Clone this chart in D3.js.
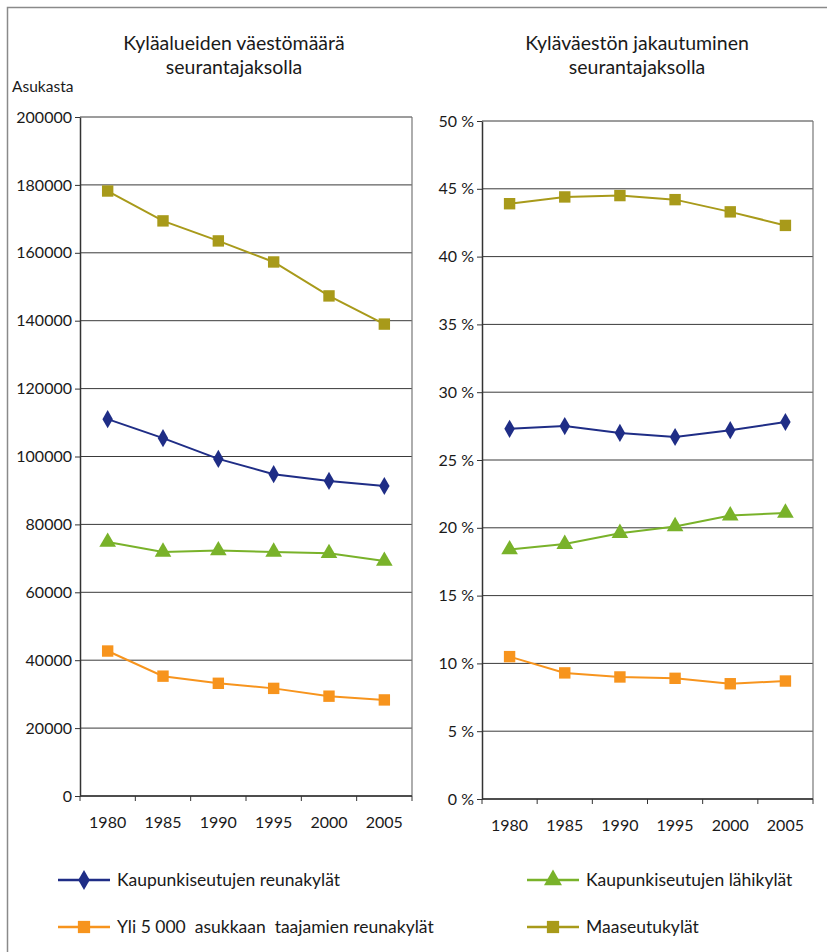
<!DOCTYPE html>
<html>
<head>
<meta charset="utf-8">
<script src="https://cdn.jsdelivr.net/npm/d3@7"></script>
<style>
  body { margin: 0; background: #fff; }
  text { font-family: Lato, "Open Sans", sans-serif; fill: #1a1a1a; }
</style>
</head>
<body>
<div id="chart"></div>
<script>
// Data
const years = ["1980", "1985", "1990", "1995", "2000", "2005"]
const seriesNames = [
  "Kaupunkiseutujen reunakylät",
  "Kaupunkiseutujen lähikylät",
  "Yli 5 000  asukkaan  taajamien reunakylät",
  "Maaseutukylät"
]
// population (left chart)
const reunaPop = [111000, 105400, 99300, 94800, 92800, 91300]
const lahiPop = [74800, 71900, 72300, 71900, 71500, 69200]
const taajamaPop = [42700, 35300, 33200, 31700, 29400, 28300]
const maaseutuPop = [178200, 169400, 163500, 157300, 147300, 139000]
// share in % (right chart)
const reunaPct = [27.3, 27.5, 27.0, 26.7, 27.2, 27.8]
const lahiPct = [18.4, 18.8, 19.6, 20.1, 20.9, 21.1]
const taajamaPct = [10.5, 9.3, 9.0, 8.9, 8.5, 8.7]
const maaseutuPct = [43.9, 44.4, 44.5, 44.2, 43.3, 42.3]

const leftTicks = [0, 20000, 40000, 60000, 80000, 100000, 120000, 140000, 160000, 180000, 200000]
const rightTicks = [0, 5, 10, 15, 20, 25, 30, 35, 40, 45, 50]

const colors = ["#1f2d86", "#79b22a", "#f7941d", "#a89a1a"]
const symbols = [d3.symbolDiamond, d3.symbolTriangle, d3.symbolSquare, d3.symbolSquare]
const symSizes = [95, 120, 130, 130]

var width = 827, height = 952

var svg = d3.select("#chart").append("svg")
  .attr("width", width)
  .attr("height", height)

// outer frame (left + top edges visible)
svg.append("path")
  .attr("d", "M7.5," + height + "V7.5H" + width)
  .attr("fill", "none")
  .attr("stroke", "#8a8a8a")
  .attr("stroke-width", 1.5)

function drawPanel(cfg) {
  var x = d3.scaleBand().domain(years).range([cfg.x0, cfg.x1])
  var y = d3.scaleLinear().domain([0, cfg.max]).range([cfg.y1, cfg.y0])

  var g = svg.append("g")

  // gridlines
  g.selectAll(".grid")
    .data(cfg.ticks)
    .enter().append("line")
      .attr("x1", cfg.x0).attr("x2", cfg.x1)
      .attr("y1", d => y(d)).attr("y2", d => y(d))
      .attr("stroke", "#3a3a3a")
      .attr("stroke-width", 1)

  // plot frame side
  g.append("line").attr("x1", cfg.x1).attr("x2", cfg.x1).attr("y1", cfg.y0).attr("y2", cfg.y1)
    .attr("stroke", "#777").attr("stroke-width", 1.2)

  // y axis
  var yAxis = d3.axisLeft(y).tickValues(cfg.ticks).tickSize(5).tickSizeOuter(0).tickFormat(cfg.fmt)
  var ya = g.append("g").attr("transform", "translate(" + cfg.x0 + ",0)").call(yAxis)
  ya.select(".domain").attr("stroke", "#333").attr("stroke-width", 1.5)
  ya.selectAll(".tick line").attr("stroke", "#333")
  ya.selectAll("text").attr("font-size", 16).attr("font-family", "Lato, sans-serif").attr("fill", "#1a1a1a").attr("x", -8)

  // x axis: ticks between categories
  var xa = g.append("g").attr("transform", "translate(0," + cfg.y1 + ")")
  xa.append("line").attr("x1", cfg.x0).attr("x2", cfg.x1).attr("stroke", "#333").attr("stroke-width", 1.5)
  xa.selectAll(".xt")
    .data(years.concat(["end"]))
    .enter().append("line")
      .attr("x1", (d, i) => cfg.x0 + i * x.step())
      .attr("x2", (d, i) => cfg.x0 + i * x.step())
      .attr("y1", 0).attr("y2", 5)
      .attr("stroke", "#333")
  xa.selectAll(".xl")
    .data(years)
    .enter().append("text")
      .attr("x", d => x(d) + x.bandwidth() / 2)
      .attr("y", 32)
      .attr("text-anchor", "middle")
      .attr("font-size", 16)
      .text(d => d)

  // title
  var t = g.append("text").attr("text-anchor", "middle").attr("font-size", 19.5)
  cfg.title.forEach((line, i) => {
    t.append("tspan").attr("x", cfg.titleX).attr("y", 50 + i * 24).text(line)
  })

  // series
  var line = d3.line().x((d, i) => x(years[i]) + x.bandwidth() / 2).y(d => y(d))
  cfg.series.forEach((vals, s) => {
    g.append("path")
      .attr("d", line(vals))
      .attr("fill", "none")
      .attr("stroke", colors[s])
      .attr("stroke-width", 2)
    g.selectAll(".pt" + s)
      .data(vals)
      .enter().append("path")
        .attr("d", d3.symbol().type(symbols[s]).size(symSizes[s]))
        .attr("transform", (d, i) => "translate(" + (x(years[i]) + x.bandwidth() / 2) + "," + y(d) + ")")
        .attr("fill", colors[s])
  })
}

drawPanel({
  x0: 80, x1: 412, y0: 117, y1: 796, max: 200000,
  ticks: leftTicks, fmt: d => d,
  title: ["Kyläalueiden väestömäärä", "seurantajaksolla"], titleX: 234,
  series: [reunaPop, lahiPop, taajamaPop, maaseutuPop]
})

drawPanel({
  x0: 482, x1: 813, y0: 121, y1: 799, max: 50,
  ticks: rightTicks, fmt: d => d + " %",
  title: ["Kyläväestön jakautuminen", "seurantajaksolla"], titleX: 637,
  series: [reunaPct, lahiPct, taajamaPct, maaseutuPct]
})

svg.append("text").attr("x", 12).attr("y", 92).attr("font-size", 15.5).text("Asukasta")

// Legend
const legendPos = [[58, 880], [527, 880], [58, 927], [527, 927]]
var lg = svg.selectAll(".legend")
  .data(seriesNames)
  .enter().append("g")
    .attr("transform", (d, i) => "translate(" + legendPos[i][0] + "," + legendPos[i][1] + ")")
lg.append("line").attr("x1", 0).attr("x2", 52).attr("stroke", (d, i) => colors[i]).attr("stroke-width", 2.5)
lg.append("path")
  .attr("d", (d, i) => d3.symbol().type(symbols[i]).size(symSizes[i] + 20)())
  .attr("transform", "translate(26,0)")
  .attr("fill", (d, i) => colors[i])
lg.append("text").attr("x", 59).attr("y", 6).attr("font-size", 17.5).attr("xml:space", "preserve").text(d => d)
</script>
</body>
</html>
